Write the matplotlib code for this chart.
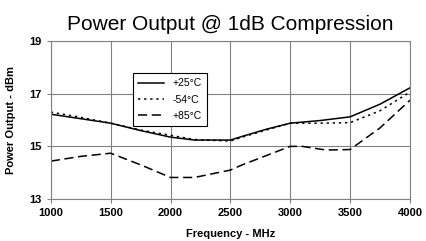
import matplotlib.pyplot as plt
import numpy as np

plt.rcParams['font.family'] = ['Liberation Sans', 'DejaVu Sans']

freq_25 = [1000, 1250, 1500, 1750, 2000, 2200, 2500, 2600, 2800, 3000, 3250, 3500, 3750, 4000]
p_25 = [16.22, 16.05, 15.88, 15.6, 15.35, 15.24, 15.24, 15.38, 15.65, 15.88, 15.98, 16.12, 16.6, 17.22]

freq_m54 = [1000, 1250, 1500, 1750, 2000, 2200, 2500, 2600, 2800, 3000, 3250, 3500, 3750, 4000]
p_m54 = [16.3, 16.1, 15.88, 15.62, 15.42, 15.26, 15.2, 15.35, 15.62, 15.88, 15.88, 15.9, 16.35, 17.06]

freq_85 = [1000, 1250, 1500, 1750, 2000, 2200, 2500, 2600, 2800, 3000, 3100, 3300, 3500, 3750, 4000]
p_85 = [14.44, 14.62, 14.74, 14.3, 13.82, 13.82, 14.1, 14.3, 14.65, 15.0, 15.0, 14.86, 14.88, 15.7, 16.75]

fig = plt.figure(figsize=(4.27, 2.41), dpi=100)
ax = fig.add_axes([0.119, 0.174, 0.841, 0.656])

ax.plot(freq_25, p_25, color='black', lw=1.1, ls='-', label='+25°C')
ax.plot(freq_m54, p_m54, color='black', lw=1.1, ls=(0, (1.5, 2.5)), label='-54°C')
ax.plot(freq_85, p_85, color='black', lw=1.1, ls=(0, (6, 3)), label='+85°C')

ax.set_xlim(1000, 4000)
ax.set_ylim(13, 19)
ax.set_xticks(np.arange(1000, 4001, 500))
ax.set_yticks([13, 15, 17, 19])
ax.grid(True, color='#808080', lw=0.8)
for s in ax.spines.values():
    s.set_color('#808080')
ax.tick_params(colors='#808080', labelcolor='black', length=3, labelsize=8)
for lbl in ax.get_xticklabels() + ax.get_yticklabels():
    lbl.set_fontweight('bold')

ax.set_xlabel('Frequency - MHz', fontsize=8, fontweight='bold', labelpad=8)
ax.set_ylabel('Power Output - dBm', fontsize=8, fontweight='bold', labelpad=10)
ax.set_title('Power Output @ 1dB Compression', fontsize=15, pad=8)

leg = ax.legend(loc='upper left', bbox_to_anchor=(0.215, 0.83), fontsize=7.5, frameon=True,
                fancybox=False, edgecolor='black', framealpha=1, handlelength=2.5,
                borderpad=0.5, labelspacing=0.6)
leg.get_frame().set_linewidth(0.8)

fig.savefig('out.png', dpi=100)
